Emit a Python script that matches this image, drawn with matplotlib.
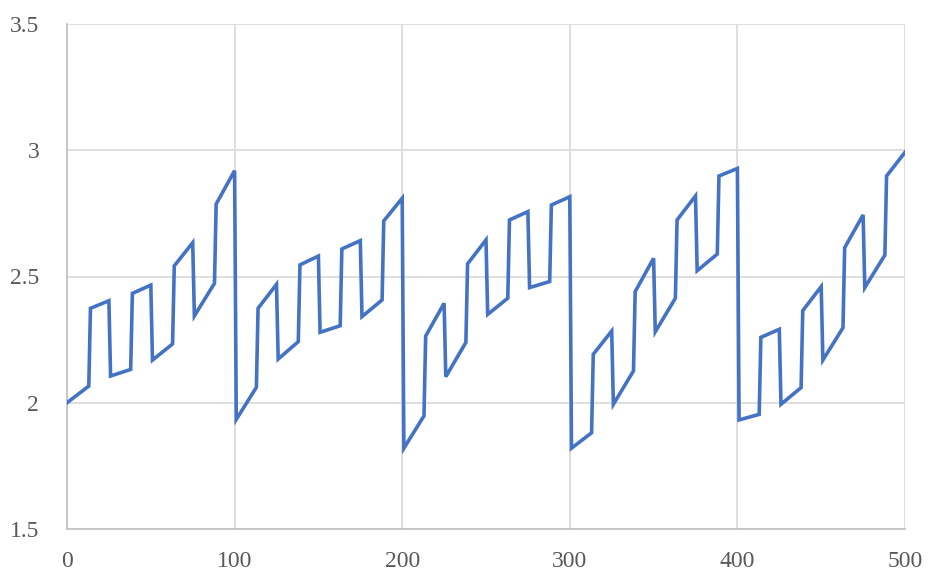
import numpy as np
import matplotlib
matplotlib.use("Agg")
import matplotlib.pyplot as plt

# value at the start and end of each of the 40 linear pieces (12.5 x-units each)
seg_start = [2.000, 2.374, 2.106, 2.433, 2.169, 2.542, 2.344, 2.787,
             1.934, 2.374, 2.173, 2.546, 2.279, 2.609, 2.341, 2.720,
             1.820, 2.264, 2.103, 2.550, 2.350, 2.724, 2.456, 2.783,
             1.820, 2.192, 1.994, 2.440, 2.281, 2.724, 2.523, 2.898,
             1.932, 2.259, 1.994, 2.365, 2.169, 2.614, 2.456, 2.898]
seg_end = [2.066, 2.404, 2.132, 2.466, 2.233, 2.634, 2.473, 2.919,
           2.061, 2.469, 2.242, 2.581, 2.305, 2.642, 2.407, 2.810,
           1.948, 2.394, 2.239, 2.645, 2.414, 2.757, 2.480, 2.816,
           1.881, 2.284, 2.126, 2.572, 2.414, 2.819, 2.589, 2.928,
           1.954, 2.291, 2.060, 2.460, 2.297, 2.744, 2.585, 2.992]
seg_len = 12.5

x_ticks = [0, 100, 200, 300, 400, 500]
y_ticks = [1.5, 2, 2.5, 3, 3.5]
y_labels = ["1.5", "2", "2.5", "3", "3.5"]

# integer x samples: each piece ends at ceil(12.5*k), next one starts one step later
ends = np.ceil(seg_len * np.arange(1, len(seg_start) + 1))
starts = np.concatenate([[0], ends[:-1] + 1])
xs = np.ravel(np.column_stack([starts, ends]))
ys = np.ravel(np.column_stack([seg_start, seg_end]))

plt.rcParams['font.family'] = ['Liberation Serif', 'DejaVu Serif']

fig = plt.figure(figsize=(9.3, 5.76), dpi=100)
ax = fig.add_axes([67 / 930, 1 - 529 / 576, 838 / 930, 505 / 576])

ax.plot(xs, ys, color='#4472C4', lw=2.6, solid_joinstyle='miter', zorder=3)

ax.set_xlim(0, 500)
ax.set_ylim(1.5, 3.5)
ax.set_xticks(x_ticks)
ax.set_yticks(y_ticks)
ax.set_yticklabels(y_labels)
ax.grid(True, color='#D9D9D9', lw=1.2)
ax.set_axisbelow(True)
for side in ['top', 'right']:
    ax.spines[side].set_visible(False)
for side in ['left', 'bottom']:
    ax.spines[side].set_color('#BFBFBF')
    ax.spines[side].set_linewidth(1.2)
ax.tick_params(length=0, labelsize=17, colors='#595959')
ax.tick_params(axis='y', pad=20)
ax.tick_params(axis='x', pad=16)

fig.savefig('out.png', dpi=100)
